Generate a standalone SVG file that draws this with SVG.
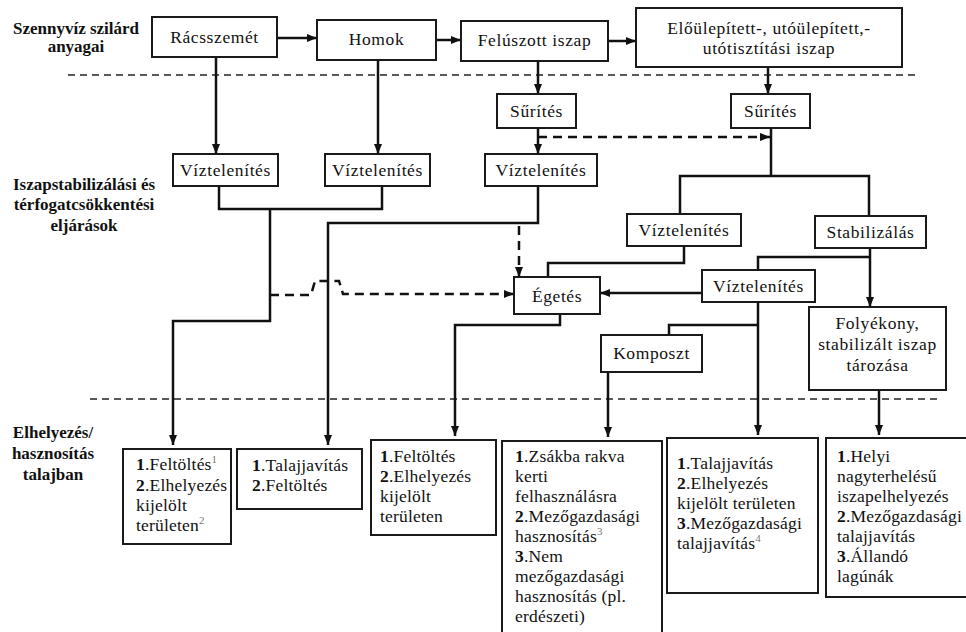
<svg xmlns="http://www.w3.org/2000/svg" width="966" height="632" viewBox="0 0 966 632">
  <style>
    .box { fill: #fff; stroke: #1a1a1a; stroke-width: 2; }
    .t { font-family: "Liberation Serif", "Times New Roman", serif; font-size: 17.5px; letter-spacing: 0.6px; text-anchor: middle; fill: #111; }
    .lst { font-family: "Liberation Serif", "Times New Roman", serif; font-size: 17.5px; letter-spacing: 0.2px; fill: #111; }
    .lst .n { font-weight: bold; }
    .lst .sup { font-size: 11px; fill: #777; }
    .lane { font-family: "Liberation Serif", "Times New Roman", serif; font-size: 17px; font-weight: bold; text-anchor: middle; fill: #111; }
    .sep { stroke: #222; stroke-width: 1.5; stroke-dasharray: 7 5; fill: none; }
    .c { fill: none; stroke: #111; stroke-width: 2.5; }
    .d { fill: none; stroke: #111; stroke-width: 2.5; stroke-dasharray: 9 6; }
  </style>
  <defs>
    <marker id="ah" viewBox="0 0 10 8" refX="10" refY="4" markerWidth="10" markerHeight="8" markerUnits="userSpaceOnUse" orient="auto">
      <path d="M0,0 L10,4 L0,8 z" fill="#111"/>
    </marker>
  </defs>

  <rect width="966" height="632" fill="#fff"/>

  <!-- lane separators -->
  <g id="separators">
    <line class="sep" x1="68" y1="75" x2="918" y2="75"/>
    <line class="sep" x1="90" y1="399" x2="940" y2="399"/>
  </g>

  <!-- lane titles -->
  <g id="lanes">
    <text class="lane"><tspan x="76" y="34">Szennyvíz szilárd</tspan><tspan x="76" y="52">anyagai</tspan></text>
    <text class="lane"><tspan x="84" y="190">Iszapstabilizálási és</tspan><tspan x="84" y="210">térfogatcsökkentési</tspan><tspan x="84" y="231">eljárások</tspan></text>
    <text class="lane"><tspan x="53" y="438">Elhelyezés/</tspan><tspan x="53" y="459">hasznosítás</tspan><tspan x="53" y="480">talajban</tspan></text>
  </g>

  <!-- connectors -->
  <g id="connectors">
    <path class="c" d="M277,38 H317" marker-end="url(#ah)"/>
    <path class="c" d="M436,40 H461" marker-end="url(#ah)"/>
    <path class="c" d="M608,41 H636" marker-end="url(#ah)"/>
    <path class="c" d="M216,57 V154" marker-end="url(#ah)"/>
    <path class="c" d="M378,60 V154" marker-end="url(#ah)"/>
    <path class="c" d="M538,61 V94" marker-end="url(#ah)"/>
    <path class="c" d="M768,67 V94" marker-end="url(#ah)"/>
    <path class="c" d="M538,128 V154" marker-end="url(#ah)"/>
    <path class="d" d="M538,137 H770" marker-end="url(#ah)"/>
    <path class="c" d="M771,128 V176"/>
    <path class="c" d="M680,214 V176 H869 V216"/>
    <path class="c" d="M684,246 V263 H548 V277"/>
    <path class="c" d="M758,270 V257 H870"/>
    <path class="c" d="M870,248 V307" marker-end="url(#ah)"/>
    <path class="c" d="M702,293 H600" marker-end="url(#ah)"/>
    <path class="c" d="M758,302 V435" marker-end="url(#ah)"/>
    <path class="c" d="M758,325 H669 V335"/>
    <path class="c" d="M608,372 V437" marker-end="url(#ah)"/>
    <path class="c" d="M879,390 V435" marker-end="url(#ah)"/>
    <path class="c" d="M560,314 V325 H455 V436" marker-end="url(#ah)"/>
    <path class="c" d="M219,186 V209 H382 V186"/>
    <path class="c" d="M270,209 V321 H173 V445" marker-end="url(#ah)"/>
    <path class="c" d="M538,186 V223 H328 V445" marker-end="url(#ah)"/>
    <path class="d" d="M519,226 V277" marker-end="url(#ah)"/>
    <path class="d" d="M270,295 H311 L315,281 H339 L343,294 H514" marker-end="url(#ah)"/>
  </g>

  <!-- solid wastes -->
  <g id="n-racsszemet"><rect class="box" x="152" y="17" width="125" height="40"/><text class="t" x="214.5" y="43">Rácsszemét</text></g>
  <g id="n-homok"><rect class="box" x="317" y="20" width="119" height="40"/><text class="t" x="376.5" y="45">Homok</text></g>
  <g id="n-feluszott"><rect class="box" x="461" y="21" width="147" height="40"/><text class="t" x="534.5" y="46">Felúszott iszap</text></g>
  <g id="n-eloulepitett"><rect class="box" x="636" y="8" width="266" height="59"/><text class="t"><tspan x="769" y="34">Előülepített-, utóülepített,-</tspan><tspan x="769" y="54">utótisztítási iszap</tspan></text></g>

  <!-- treatment steps -->
  <g id="n-surites1"><rect class="box" x="497" y="94" width="79" height="34"/><text class="t" x="536.5" y="117">Sűrítés</text></g>
  <g id="n-surites2"><rect class="box" x="731" y="94" width="79" height="34"/><text class="t" x="770.5" y="117">Sűrítés</text></g>
  <g id="n-viz1"><rect class="box" x="173" y="154" width="105" height="32"/><text class="t" x="225.5" y="176">Víztelenítés</text></g>
  <g id="n-viz2"><rect class="box" x="325" y="154" width="105" height="32"/><text class="t" x="377.5" y="176">Víztelenítés</text></g>
  <g id="n-viz3"><rect class="box" x="485" y="154" width="112" height="32"/><text class="t" x="541" y="176">Víztelenítés</text></g>
  <g id="n-viz4"><rect class="box" x="627" y="214" width="114" height="32"/><text class="t" x="684" y="236">Víztelenítés</text></g>
  <g id="n-stabilizalas"><rect class="box" x="815" y="216" width="111" height="32"/><text class="t" x="870.5" y="238">Stabilizálás</text></g>
  <g id="n-egetes"><rect class="box" x="514" y="277" width="86" height="37"/><text class="t" x="557" y="302">Égetés</text></g>
  <g id="n-viz5"><rect class="box" x="702" y="270" width="113" height="32"/><text class="t" x="758.5" y="292">Víztelenítés</text></g>
  <g id="n-folyekony"><rect class="box" x="809" y="307" width="137" height="83"/><text class="t"><tspan x="877.5" y="329">Folyékony,</tspan><tspan x="877.5" y="350">stabilizált iszap</tspan><tspan x="877.5" y="371">tározása</tspan></text></g>
  <g id="n-komposzt"><rect class="box" x="601" y="335" width="101" height="37"/><text class="t" x="651.5" y="359">Komposzt</text></g>

  <!-- final disposal / use -->
  <g id="n-out1"><rect class="box" x="123" y="449" width="108" height="95"/>
    <text class="lst"><tspan x="136" y="470"><tspan class="n">1</tspan>.Feltöltés</tspan><tspan class="sup" dy="-7">1</tspan><tspan x="136" y="491"><tspan class="n">2</tspan>.Elhelyezés</tspan><tspan x="136" y="511">kijelölt</tspan><tspan x="136" y="531">területen</tspan><tspan class="sup" dy="-7">2</tspan></text></g>
  <g id="n-out2"><rect class="box" x="237" y="449" width="125" height="60"/>
    <text class="lst"><tspan x="252" y="471"><tspan class="n">1</tspan>.Talajjavítás</tspan><tspan x="252" y="491"><tspan class="n">2</tspan>.Feltöltés</tspan></text></g>
  <g id="n-out3"><rect class="box" x="371" y="440" width="125" height="95"/>
    <text class="lst"><tspan x="380" y="462"><tspan class="n">1</tspan>.Feltöltés</tspan><tspan x="380" y="482"><tspan class="n">2</tspan>.Elhelyezés</tspan><tspan x="380" y="502">kijelölt</tspan><tspan x="380" y="522">területen</tspan></text></g>
  <g id="n-out4"><rect class="box" x="502" y="441" width="160" height="200"/>
    <text class="lst"><tspan x="515" y="462"><tspan class="n">1</tspan>.Zsákba rakva</tspan><tspan x="515" y="482">kerti</tspan><tspan x="515" y="502">felhasználásra</tspan><tspan x="515" y="522"><tspan class="n">2</tspan>.Mezőgazdasági</tspan><tspan x="515" y="542">hasznosítás</tspan><tspan class="sup" dy="-7">3</tspan><tspan x="515" y="562"><tspan class="n">3</tspan>.Nem</tspan><tspan x="515" y="582">mezőgazdasági</tspan><tspan x="515" y="602">hasznosítás (pl.</tspan><tspan x="515" y="622">erdészeti)</tspan></text></g>
  <g id="n-out5"><rect class="box" x="667" y="438" width="151" height="155"/>
    <text class="lst"><tspan x="677" y="469"><tspan class="n">1</tspan>.Talajjavítás</tspan><tspan x="677" y="489"><tspan class="n">2</tspan>.Elhelyezés</tspan><tspan x="677" y="509">kijelölt területen</tspan><tspan x="677" y="529"><tspan class="n">3</tspan>.Mezőgazdasági</tspan><tspan x="677" y="549">talajjavítás</tspan><tspan class="sup" dy="-7">4</tspan></text></g>
  <g id="n-out6"><rect class="box" x="826" y="438" width="145" height="159"/>
    <text class="lst"><tspan x="837" y="462"><tspan class="n">1</tspan>.Helyi</tspan><tspan x="837" y="482">nagyterhelésű</tspan><tspan x="837" y="502">iszapelhelyezés</tspan><tspan x="837" y="522"><tspan class="n">2</tspan>.Mezőgazdasági</tspan><tspan x="837" y="542">talajjavítás</tspan><tspan x="837" y="562"><tspan class="n">3</tspan>.Állandó</tspan><tspan x="837" y="582">lagúnák</tspan></text></g>
</svg>
